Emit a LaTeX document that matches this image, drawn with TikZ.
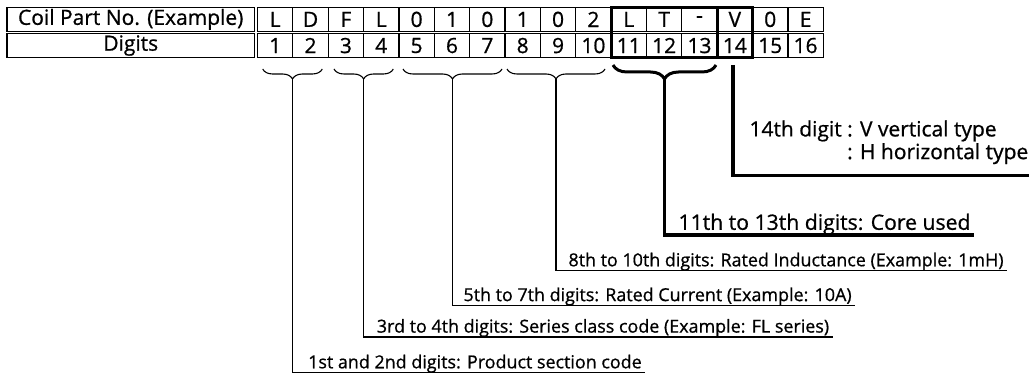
\documentclass[tikz,border=0pt]{standalone}
\usepackage{fontspec}
\setmainfont{Open Sans}[FakeBold=0.8]
\usepackage{tikz}
\usetikzlibrary{decorations.pathreplacing,calc}

\begin{document}
\begin{tikzpicture}[x=1pt,y=-1pt,
  cell/.style={draw,line width=1.2pt,inner sep=0pt,outer sep=0pt,minimum width=35.36pt,
    font=\fontsize{21}{24}\selectfont},
  hdr/.style={cell,minimum width=247.5pt},
  lbl/.style={anchor=south west,inner xsep=3.5pt,inner ysep=4.2pt,text depth=0pt,
    font=\fontsize{17.9}{21}\selectfont},
  lead/.style={line width=1.5pt},
  boldlead/.style={line width=3.2pt},
  brc/.style={decorate,decoration={brace,mirror,amplitude=10pt},line width=1.1pt}]
\useasboundingbox (0,0) rectangle (1029,374);
% Table
\node[hdr,minimum height=24.2pt] (partlbl) at (130.75,19.4) {Coil Part No. (Example)};
\node[hdr,minimum height=23.5pt] (diglbl) at (130.75,45.55) {Digits};
\foreach \i/\c in {1/L,2/D,3/F,4/L,5/0,6/1,7/0,8/1,9/0,10/2,11/L,12/T,13/-,14/V,15/0,16/E} {
  \node[cell,minimum height=24.2pt] (part\i) at ({257.5+35.36*(\i-0.5)},19.4) {\c};
  \node[cell,minimum height=23.5pt] (dig\i) at ({257.5+35.36*(\i-0.5)},45.55) {\i};
}
\draw[boldlead] (part11.north west) rectangle (dig13.south east);
\draw[boldlead] (part14.north west) rectangle (dig14.south east);
% Braces
\draw[brc] (262.7,69) -- (322.3,69);
\draw[brc] (334,69) -- (393.3,69);
\draw[brc] (403,69) -- (502,69);
\draw[brc] (507,69) -- (605,69);
\draw[brc,line width=3pt,decoration={brace,mirror,amplitude=14pt}] (613,65) -- (716,65);
\coordinate (b12) at (292.5,79);
\coordinate (b34) at (363.7,79);
\coordinate (b57) at (452.5,79);
\coordinate (b810) at (556,79);
\coordinate (b1113) at (664.5,79);
\coordinate (top14) at (733,65);
\coordinate (end14) at (1029,175.7);
% Labels
\node[lbl] (lprod) at (304.5,372.7) {1st and 2nd digits: Product section code};
\node[lbl] (lseries) at (373.2,337) {3rd to 4th digits: Series class code (Example: FL series)};
\node[lbl] (lcurrent) at (459.8,305.5) {5th to 7th digits: Rated Current (Example: 10A)};
\node[lbl] (linduct) at (564.8,270.7) {8th to 10th digits: Rated Inductance (Example: 1mH)};
\node[lbl,inner ysep=5pt,font=\fontsize{21.2}{25}\selectfont] (lcore) at (674.8,235)
  {11th to 13th digits: Core used};
\node[anchor=south west,inner sep=0pt,text depth=0pt,align=left,
  font=\fontsize{21}{22.7}\selectfont] (ltype) at (749.3,159.3)
  {14th digit : V vertical type\\\hphantom{14th digit }: H horizontal type};
% Leaders
\draw[lead] (b12) |- (lprod.south east);
\draw[lead] (b34) |- (lseries.south east);
\draw[lead] (b57) |- (lcurrent.south east);
\draw[lead] (b810) |- (linduct.south east);
\draw[boldlead] (b1113) |- (lcore.south east);
\draw[boldlead] (top14) |- (end14);
\end{tikzpicture}
\end{document}
